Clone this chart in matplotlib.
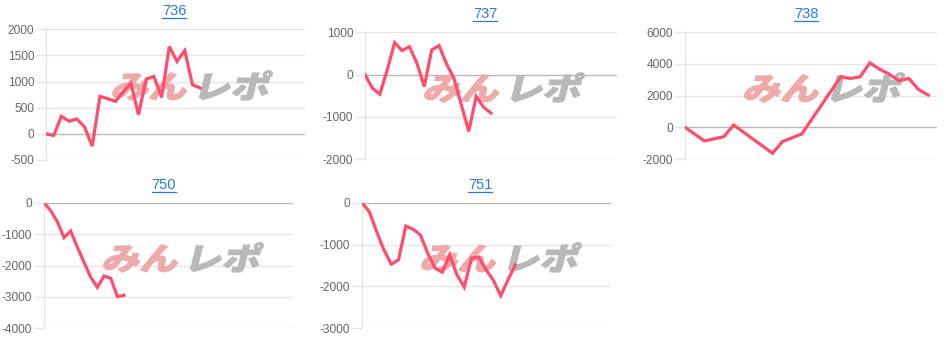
import matplotlib
matplotlib.use("Agg")
import matplotlib.pyplot as plt
from matplotlib.textpath import TextPath
from matplotlib.font_manager import FontProperties
from matplotlib.patches import PathPatch
from matplotlib.transforms import Affine2D

W, H = 947, 339

# ---- data ----
titles = ["736", "737", "738", "750", "751"]

x736 = list(range(21))
y736 = [0, -30, 337, 241, 286, 133, -235, 717, 673, 622, 800, 971, 368, 1048, 1098, 698, 1670, 1384, 1594, 940, 876]

x737 = list(range(18))
y737 = [0, -323, -465, 110, 756, 567, 661, 268, -283, 583, 685, 252, -87, -717, -1346, -520, -772, -913]

x738 = [0, 2, 4, 5, 9, 10, 12, 16, 17, 18, 19, 20, 21, 22, 23, 24, 25]
y738 = [0, -860, -590, 147, -1640, -902, -420, 3190, 3085, 3190, 4070, 3670, 3360, 2940, 3085, 2390, 2035]

x750 = [0, 1, 2, 3, 4, 5, 7, 8, 9, 10, 11, 12]
y750 = [0, -255, -605, -1114, -900, -1420, -2375, -2694, -2333, -2408, -2990, -2948]

x751 = list(range(22))
y751 = [0, -214, -690, -1127, -1468, -1365, -556, -635, -770, -1206, -1563, -1659, -1246, -1722, -2016, -1325, -1302, -1603, -1857, -2222, -1841, -1484]

yticks736 = [-500, 0, 500, 1000, 1500, 2000]
yticks737 = [-2000, -1000, 0, 1000]
yticks738 = [-2000, 0, 2000, 4000, 6000]
yticks750 = [-4000, -3000, -2000, -1000, 0]
yticks751 = [-3000, -2000, -1000, 0]

# ---- layout (pixels) ----
panels = [
    # left, right, top, bottom, xmax, title_x, title_y, wm_x, wm_y
    (46, 305, 29.3, 160, 33.6, 174, 11, 110, 98),
    (365, 617, 32.3, 159, 34.0, 485, 14, 422, 100),
    (685, 937, 32.3, 159, 25.9, 806, 14, 742, 100),
    (44, 293, 202.7, 328.3, 37.3, 164, 185, 101, 270),
    (362, 611, 202.7, 328.3, 34.1, 480, 185, 419, 270),
]
xs = [x736, x737, x738, x750, x751]
ys = [y736, y737, y738, y750, y751]
yts = [yticks736, yticks737, yticks738, yticks750, yticks751]

LINE = "#ff4d6d"
GRID = "#e6e6e6"
ZERO = "#b8b8b8"
TXT = "#666666"
LINK = "#2b7bd6"

plt.rcParams["font.family"] = ["Liberation Sans", "DejaVu Sans"]

fig = plt.figure(figsize=(W / 100, H / 100), dpi=100)
fig.patch.set_facecolor("white")

jp = FontProperties(family="Noto Sans CJK JP", weight="black")


def watermark(ax, x0, ybase):
    # x0, ybase in image pixels (y from top); draw skewed logo text in display coords
    for txt, col, dx in (("みん", "#eeaaaa", 0), ("レポ", "#b9b9b9", 82)):
        tp = TextPath((0, 0), txt, size=34, prop=jp)
        tr = Affine2D().scale(1.12, 0.92).skew_deg(14, 0).translate(x0 + dx, H - ybase)
        p = PathPatch(tp, transform=tr, facecolor=col, edgecolor=col, lw=0.8,
                      zorder=1.5, clip_on=False)
        ax.add_artist(p)


for i, (l, r, t, b, xmax, tx, ty, wx, wy) in enumerate(panels):
    ax = fig.add_axes([l / W, 1 - b / H, (r - l) / W, (b - t) / H])
    ax.plot(xs[i], ys[i], color=LINE, lw=2.3, zorder=3, solid_joinstyle="miter")
    yt = yts[i]
    ax.set_ylim(yt[0], yt[-1])
    ax.set_xlim(0, xmax)
    ax.set_yticks(yt)
    ax.set_yticklabels([str(v) for v in yt])
    ax.set_xticks([])
    for v in yt:
        ax.axhline(v, color=ZERO if v == 0 else GRID, lw=1, zorder=1)
    for s in ("top", "right", "bottom"):
        ax.spines[s].set_visible(False)
    ax.spines["left"].set_color(GRID)
    ax.spines["left"].set_linewidth(1)
    ax.tick_params(axis="y", length=7, width=1, color=GRID, labelcolor=TXT,
                   labelsize=8.6, pad=1.5)
    ax.set_facecolor("none")
    watermark(ax, wx, wy)
    # title (underlined link)
    fig.text(tx / W, 1 - ty / H, titles[i], ha="center", va="center",
             fontsize=10.5, color=LINK)

fig.canvas.draw()
renderer = fig.canvas.get_renderer()
for t in list(fig.texts):
    bb = t.get_window_extent(renderer)
    yline = bb.y0 + 0.5
    fig.add_artist(plt.Line2D([bb.x0 / W, bb.x1 / W], [yline / H, yline / H],
                              color=LINK, lw=0.9, transform=fig.transFigure))

fig.savefig("out.png", dpi=100, facecolor="white")
